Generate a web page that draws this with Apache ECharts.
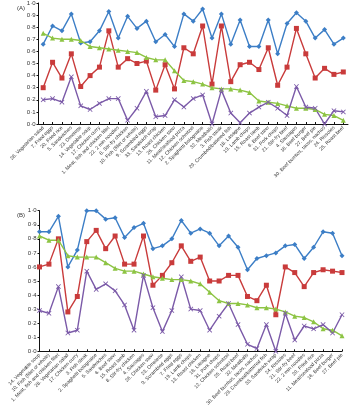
<!DOCTYPE html>
<html><head><meta charset="utf-8">
<script src="https://cdn.jsdelivr.net/npm/echarts@6/dist/echarts.min.js"></script>
<style>html,body{margin:0;padding:0;background:#fff}#c{width:350px;height:420px}</style>
</head><body><div id="c"></div>
<script>
const catsA = ["28. Vegetarian salad","7. Fried eggs","20. Fried rice","5. Sandwiches","23. Omelette","14. Vegetable soup","17. Chicken curry","1. Meat, fish and chicken fillet","22. 2 min noodles","8. Stir-fry chicken","10. Fish (fillet or whole)","9. Scrambled eggs","33. Sandwich wrap","13. Roast chicken","26. Chicken stew","11. Meat/seafood pizza","12. Chicken schnitzel","2. Spaghetti bolognaise","32. Meatballs","3. Fish steak","29. Crumbed/battered fish","18. Lasagne","19. Lamb chops","15. Roast lamb","6. Beef stew","31. Pork chops","21. Stir-fry beef","4. Sausages","16. Beef burger","27. Beef pie","30. Beef burritos, tacos, nachos","24. Rissoles","25. Roast beef"];
const blueA   = [0.66,0.81,0.77,0.91,0.67,0.68,0.77,0.93,0.71,0.89,0.79,0.85,0.68,0.74,0.64,0.91,0.85,0.95,0.71,0.91,0.66,0.86,0.64,0.64,0.86,0.58,0.83,0.92,0.85,0.71,0.78,0.66,0.71];
const redA    = [0.30,0.51,0.38,0.58,0.31,0.40,0.47,0.77,0.47,0.54,0.50,0.52,0.28,0.49,0.29,0.63,0.58,0.81,0.33,0.81,0.35,0.49,0.51,0.45,0.63,0.32,0.47,0.79,0.58,0.38,0.46,0.41,0.43];
const greenA  = [0.75,0.71,0.70,0.70,0.69,0.64,0.63,0.62,0.61,0.60,0.59,0.55,0.53,0.53,0.44,0.36,0.35,0.33,0.30,0.29,0.29,0.28,0.26,0.19,0.18,0.17,0.15,0.13,0.13,0.12,0.08,0.07,0.03];
const purpleA = [0.20,0.21,0.18,0.39,0.15,0.12,0.17,0.21,0.21,0.03,0.13,0.27,0.06,0.07,0.20,0.14,0.21,0.24,0.00,0.28,0.09,0.01,0.09,0.14,0.18,0.13,0.07,0.31,0.14,0.13,0.00,0.11,0.10];

const catsB = ["14. Vegetable soup","10. Fish (fillet or whole)","1. Meat, fish and chicken fillet","28. Vegetarian salad","17. Chicken curry","3. Fish steak","2. Spaghetti bolognaise","5. Sandwiches","6. Beef stew","15. Roast lamb","8. Stir-fry chicken","4. Sausages","26. Chicken stew","23. Omelette","9. Scrambled eggs","7. Fried eggs","19. Lamb chops","13. Roast chicken","18. Lasagne","31. Pork chops","12. Chicken schnitzel","25. Roast beef","32. Meatballs","30. Beef burritos, tacos, nachos","29. Crumbed/battered fish","33. Sandwich wrap","24. Rissoles","21. Stir-fry beef","22. 2 min noodles","20. Fried rice","11. Meat/seafood pizza","16. Beef burger","27. Beef pie"];
const blueB   = [0.85,0.85,0.96,0.60,0.72,1.00,1.00,0.94,0.95,0.81,0.88,0.91,0.73,0.75,0.80,0.93,0.84,0.87,0.84,0.75,0.82,0.74,0.58,0.66,0.68,0.70,0.75,0.76,0.66,0.74,0.85,0.84,0.68];
const redB    = [0.60,0.62,0.80,0.28,0.39,0.78,0.86,0.73,0.82,0.62,0.62,0.82,0.47,0.54,0.63,0.75,0.64,0.67,0.50,0.50,0.54,0.54,0.39,0.36,0.47,0.26,0.60,0.56,0.46,0.56,0.58,0.57,0.56];
const greenB  = [0.82,0.79,0.79,0.68,0.67,0.67,0.67,0.63,0.59,0.57,0.57,0.55,0.53,0.52,0.51,0.51,0.50,0.48,0.42,0.36,0.34,0.34,0.33,0.31,0.31,0.30,0.28,0.25,0.24,0.21,0.16,0.15,0.11];
const purpleB = [0.29,0.27,0.46,0.13,0.15,0.57,0.44,0.48,0.43,0.33,0.15,0.54,0.31,0.14,0.29,0.53,0.30,0.29,0.15,0.25,0.34,0.19,0.05,0.02,0.19,0.00,0.27,0.08,0.18,0.16,0.19,0.13,0.26];

const yTicks = [0,0.1,0.2,0.3,0.4,0.5,0.6,0.7,0.8,0.9,1.0];

const C = {blue:'#3c7ec6', red:'#c93b3b', green:'#8dc443', purple:'#7b5aa8'};
const xMark = 'path://M0,1.2L1.2,0L5,3.8L8.8,0L10,1.2L6.2,5L10,8.8L8.8,10L5,6.2L1.2,10L0,8.8L3.8,5Z';

const chart = echarts.init(document.getElementById('c'), null, {renderer:'canvas'});
const fmt = v => v.toFixed(1).replace('.', '\u00b7');
function xAx(cats, idx, gap){
  return {type:'category', gridIndex:idx, data:cats, boundaryGap:gap,
    axisLine:{lineStyle:{color:'#111', width:1}},
    axisTick:{show:true, inside:true, length:2, alignWithLabel:true, lineStyle:{color:'#111'}},
    axisLabel:{interval:0, rotate:45, fontSize:5, color:'#333', margin:3, fontFamily:'Liberation Sans'}};
}
function yAx(idx){
  return {type:'value', gridIndex:idx, min:0, max:1, interval:0.1,
    axisLine:{show:true, lineStyle:{color:'#111', width:1}},
    axisTick:{show:true, length:2, lineStyle:{color:'#111'}},
    splitLine:{show:false},
    axisLabel:{fontSize:6, color:'#333', margin:3, formatter:fmt, fontFamily:'Liberation Sans'}};
}
function ser(data, color, symbol, idx){
  return {type:'line', data:data, xAxisIndex:idx, yAxisIndex:idx, symbol:symbol, symbolSize:5,
    lineStyle:{color:color, width:1.4}, itemStyle:{color:color}, animation:false};
}
chart.setOption({
  animation:false,
  textStyle:{fontFamily:'Liberation Sans'},
  title:[
    {text:'(A)', left:12, top:0, textStyle:{fontSize:6, fontWeight:'normal', color:'#333'}},
    {text:'(B)', left:12, top:207, textStyle:{fontSize:6, fontWeight:'normal', color:'#333'}}
  ],
  grid:[
    {left:38.5, top:3, width:309.5, height:121},
    {left:39.5, top:210.7, width:302.5, height:140.6}
  ],
  xAxis:[xAx(catsA,0,true), xAx(catsB,1,false)],
  yAxis:[yAx(0), yAx(1)],
  series:[
    ser(blueA, C.blue, 'diamond', 0),
    ser(redA, C.red, 'rect', 0),
    ser(greenA, C.green, 'triangle', 0),
    ser(purpleA, C.purple, xMark, 0),
    ser(blueB, C.blue, 'diamond', 1),
    ser(redB, C.red, 'rect', 1),
    ser(greenB, C.green, 'triangle', 1),
    ser(purpleB, C.purple, xMark, 1)
  ]
});
</script></body></html>
